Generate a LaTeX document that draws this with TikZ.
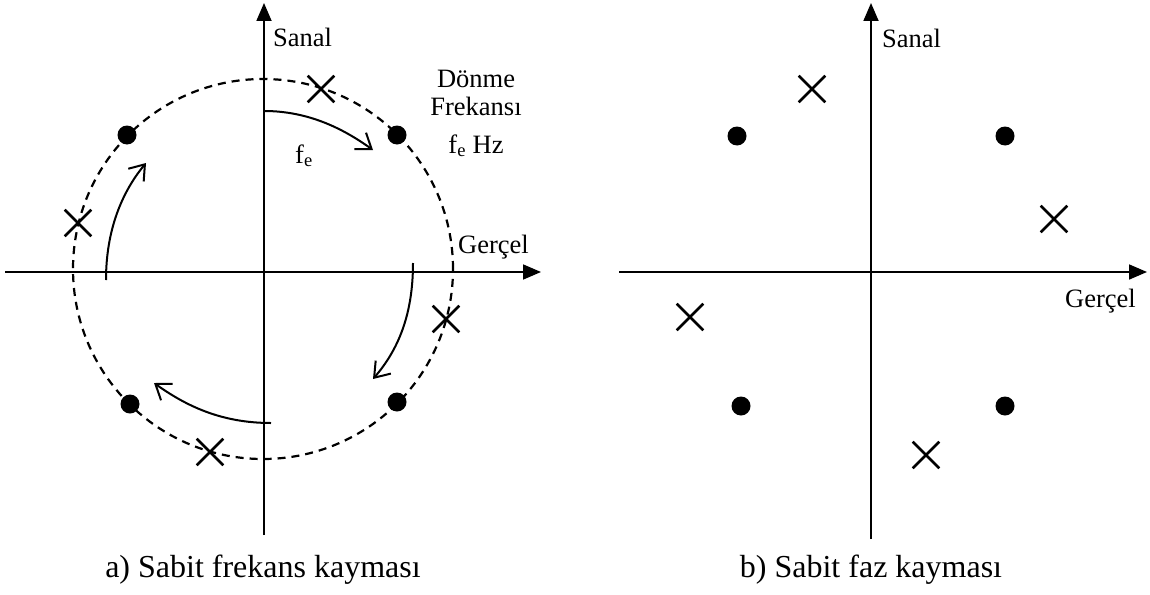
\documentclass[tikz,border=0pt]{standalone}
\usepackage{fontspec}
\setmainfont{Liberation Serif}
\usetikzlibrary{arrows.meta,shapes.misc}
\begin{document}
\begin{tikzpicture}[x=1pt,y=-1pt,
  axis/.style={line width=1.8pt,-{Triangle[length=18pt,width=15pt]}},
  dot/.style={circle,fill=black,inner sep=0pt,minimum size=19pt},
  xmark/.style={cross out,draw=black,line width=2.6pt,inner sep=0pt,minimum size=24pt},
  rot/.style={line width=2pt,-{Straight Barb[length=14pt,width=20pt,line width=2pt]}},
  lbl/.style={inner sep=0pt,font=\fontsize{26.5}{30}\selectfont},
  captext/.style={inner sep=0pt,font=\fontsize{32}{36}\selectfont},
  orbit/.style={line width=2.2pt,dash pattern=on 8pt off 6pt}]
\useasboundingbox (0,0) rectangle (1150,594);

% ---------- panel a ----------
\coordinate (aL) at (5,272);
\coordinate (aR) at (541,272);
\coordinate (aB) at (264,535);
\coordinate (aT) at (264,3);
\draw[axis] (aL) -- (aR);
\draw[axis] (aB) -- (aT);

\node[draw,circle,orbit,minimum size=380pt,inner sep=0pt] (ring) at (263,269) {};

\node[dot] (d1) at (127,135) {};
\node[dot] (d2) at (397,135) {};
\node[dot] (d3) at (130,404) {};
\node[dot] (d4) at (397,402) {};

\node[xmark] (x1) at (321,89) {};
\node[xmark] (x2) at (78,223) {};
\node[xmark] (x3) at (446,319) {};
\node[xmark] (x4) at (210,452) {};

\coordinate (r1s) at (264,111); \coordinate (r1e) at (373,150);
\coordinate (r2s) at (413,263); \coordinate (r2e) at (373,379);
\coordinate (r3s) at (271,423); \coordinate (r3e) at (154,383);
\coordinate (r4s) at (106,280); \coordinate (r4e) at (146,163);
\draw[rot] (r1s) .. controls (310,111) and (345,130) .. (r1e);
\draw[rot] (r2s) .. controls (413,315) and (398,350) .. (r2e);
\draw[rot] (r3s) .. controls (220,423) and (185,405) .. (r3e);
\draw[rot] (r4s) .. controls (106,230) and (122,192) .. (r4e);

\node[lbl,anchor=base west] (sanalA) at (273,47) {Sanal};
\node[lbl,anchor=base] (donme) at (476,87) {Dönme};
\node[lbl,anchor=base] (frek) at (476,115) {Frekansı};
\node[lbl,anchor=base] (feHz) at (476,153) {f\textsubscript{e} Hz};
\node[lbl,anchor=base west] (fe) at (295,163) {f\textsubscript{e}};
\node[lbl,anchor=base west] (gercelA) at (458,253) {Gerçel};
\node[captext,anchor=base] (capA) at (263,577) {a) Sabit frekans kayması};

% ---------- panel b ----------
\coordinate (bL) at (619,272);
\coordinate (bR) at (1147,272);
\coordinate (bB) at (871,539);
\coordinate (bT) at (871,3);
\draw[axis] (bL) -- (bR);
\draw[axis] (bB) -- (bT);

\node[dot] (e1) at (737,136) {};
\node[dot] (e2) at (1005,136) {};
\node[dot] (e3) at (741,406) {};
\node[dot] (e4) at (1005,406) {};

\node[xmark] (y1) at (812,89) {};
\node[xmark] (y2) at (1054,219) {};
\node[xmark] (y3) at (690,317) {};
\node[xmark] (y4) at (926,455) {};

\node[lbl,anchor=base west] (sanalB) at (882,48) {Sanal};
\node[lbl,anchor=base west] (gercelB) at (1065,307) {Gerçel};
\node[captext,anchor=base] (capB) at (871,577) {b) Sabit faz kayması};
\end{tikzpicture}
\end{document}
